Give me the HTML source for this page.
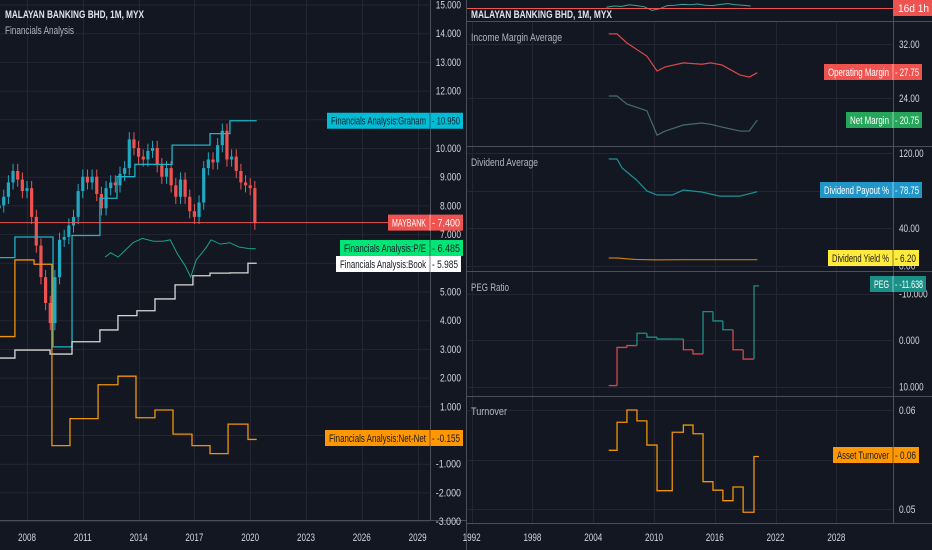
<!DOCTYPE html>
<html><head><meta charset="utf-8"><style>
html,body{margin:0;padding:0;background:#131722;}
svg{display:block;font-family:"Liberation Sans",sans-serif;}
</style></head><body>
<svg id="c" width="932" height="550" viewBox="0 0 932 550" xmlns="http://www.w3.org/2000/svg">
<rect width="932" height="550" fill="#131722"/>
<g id="grid"></g>
<g id="marks"></g>
<g id="frame" stroke="#4a4e59" stroke-width="1">
 <line x1="466.5" y1="0" x2="466.5" y2="550"/>
 <line x1="430.5" y1="0" x2="430.5" y2="521"/>
 <line x1="0" y1="520.5" x2="466" y2="520.5"/>
 <line x1="893.5" y1="0" x2="893.5" y2="523"/>
 <line x1="466" y1="21.5" x2="932" y2="21.5"/>
 <line x1="466" y1="146.5" x2="932" y2="146.5"/>
 <line x1="466" y1="271.5" x2="932" y2="271.5"/>
 <line x1="466" y1="396.5" x2="932" y2="396.5"/>
 <line x1="466" y1="523.5" x2="932" y2="523.5"/>
</g>
<g id="txt" font-size="11" fill="#d1d4dc"></g>
<g font-size="11">
 <text x="5" y="18" fill="#e0e3eb" font-weight="bold" textLength="139" lengthAdjust="spacingAndGlyphs">MALAYAN BANKING BHD, 1M, MYX</text>
 <text x="5" y="34" fill="#b2b5be" textLength="69" lengthAdjust="spacingAndGlyphs">Financials Analysis</text>
 <text x="471" y="18" fill="#e0e3eb" font-weight="bold" textLength="141" lengthAdjust="spacingAndGlyphs">MALAYAN BANKING BHD, 1M, MYX</text>
 <text x="471" y="41" fill="#b2b5be" textLength="91" lengthAdjust="spacingAndGlyphs">Income Margin Average</text>
 <text x="471" y="166" fill="#b2b5be" textLength="67" lengthAdjust="spacingAndGlyphs">Dividend Average</text>
 <text x="471" y="291" fill="#b2b5be" textLength="38" lengthAdjust="spacingAndGlyphs">PEG Ratio</text>
 <text x="471" y="415" fill="#b2b5be" textLength="36" lengthAdjust="spacingAndGlyphs">Turnover</text>
</g>
<g id="labels" font-size="11"></g>
</svg>
<script>
// ===== Left pane data =====
const candleStart = 2006.5;
const candleCloses = [8.0,8.3,8.8,9.2,8.9,8.5,8.6,7.6,6.6,5.5,4.6,3.9,5.5,6.8,6.9,7.3,7.6,8.5,9.0,8.8,9.0,8.4,7.9,8.6,8.8,8.7,9.1,9.3,10.3,10.0,9.7,9.6,9.9,10.0,9.4,9.0,9.3,8.7,8.3,8.9,8.3,7.8,7.6,8.1,9.3,9.6,9.5,10.1,10.6,9.6,9.7,9.2,8.8,8.7,8.6,7.4];
const grahamYears = [2006.55,2007.35,2009.4,2010.42,2011.92,2012.84,2013.8,2015.8,2017.84,2018.91];
const grahamValues = [6.18,6.9,3.07,6.95,8.25,9.0,9.43,10.1,10.5,10.95];
const peYears = [2012.2,2012.5,2012.9,2013.3,2013.7,2014.2,2014.8,2015.3,2015.7,2016.1,2016.5,2016.8,2017.1,2017.6,2017.9,2018.4,2018.9,2019.4,2019.9,2020.3];
const peValues = [6.2,6.35,6.2,6.45,6.7,6.85,6.75,6.75,6.8,6.3,5.9,5.5,6.1,6.5,6.8,6.65,6.7,6.55,6.5,6.49];
const bookYears = [2006.55,2007.35,2009.24,2010.42,2011.92,2012.89,2013.91,2014.88,2015.96,2016.92,2017.84,2018.91,2019.88];
const bookValues = [2.68,2.96,2.82,3.25,3.66,4.16,4.33,4.74,5.23,5.55,5.64,5.65,5.985];
const netYears = [2006.55,2007.35,2008.38,2009.34,2010.31,2011.82,2012.89,2013.86,2014.88,2015.85,2016.87,2017.84,2018.81,2019.88];
const netValues = [3.43,6.1,5.95,-0.37,0.57,1.75,2.05,0.6,0.87,0.03,-0.37,-0.65,0.38,-0.155];
const leftEnd = 2020.35;
const leftTicksY = [15,14,13,12,10,9,8,7,5,4,3,2,1,-1,-2,-3];
const leftTicksX = [2008,2011,2014,2017,2020,2023,2026,2029];
// ===== Right panes data =====
const marginYears = [2005.53,2006.35,2007.33,2009.3,2010.3,2011.1,2012.9,2014.7,2015.6,2016.7,2018.5,2019.4,2020.2];
const opMargin = [33.5,33.5,32.15,30.2,28.0,28.6,29.2,29.0,29.2,28.9,27.4,27.1,27.75];
const netMargin = [24.3,24.3,23.1,22.1,18.5,19.1,20.0,20.3,20.1,19.7,19.1,19.1,20.75];
const divYears = [2005.53,2006.35,2006.85,2008.3,2009.3,2010.3,2011.8,2012.9,2014.7,2016.5,2018.5,2020.2];
const divPayout = [113.6,113.6,104,91,79.5,75.2,75.2,80.5,78.4,74,74,78.75];
const yieldYears = [2005.53,2006.35,2008.0,2010.3,2012.9,2020.2];
const divYield = [8.0,8.0,6.5,6.0,6.2,6.2];
const pegYears = [2005.53,2006.35,2007.33,2008.32,2009.3,2010.3,2011.8,2012.9,2013.85,2014.84,2015.82,2016.8,2017.8,2018.8,2019.87];
const pegValues = [9.8,1.6,1.2,-1.45,-0.6,-0.2,-0.2,2.1,3.0,-6.1,-4.1,-2.2,2.1,4.1,-11.638];
const pegEnd = 2020.36;
const turnYears = [2005.53,2006.35,2007.33,2008.32,2009.3,2010.3,2011.8,2012.9,2013.85,2014.84,2015.82,2016.8,2017.8,2018.8,2019.87];
const turnValues = [0.05593,0.05876,0.0600,0.0589,0.05646,0.05185,0.05775,0.05848,0.0576,0.05276,0.0519,0.05084,0.05222,0.04967,0.0553];
const rightTicksX = [1992,1998,2004,2010,2016,2022,2028];
const miniValues = [0.2,0.5,0.4,0.8,0.6,0.3,-0.6,-0.2,0.6,0.7,0.9,0.8,1.0,0.7,0.6,0.9,1.1,0.8,0.7,0.5];
const miniStart = 2005.3;

const NS = "http://www.w3.org/2000/svg";
const grid = document.getElementById('grid');
const marks = document.getElementById('marks');
const txt = document.getElementById('txt');
function el(tag, parent, attrs){const e=document.createElementNS(NS,tag);for(const k in attrs)e.setAttribute(k,attrs[k]);parent.appendChild(e);return e;}

const lx = y => 27 + (y - 2008) * 18.6;
const ly = v => 435 - 28.7 * v;
const rx = y => 654 + (y - 2010) * 10.13;
const incY = v => 44 + (32 - v) * 6.75;
const divY = v => 153 + (120 - v) * 0.9375;
const pegY = v => 340 + v * 4.65;
const turnY = v => 410 + (0.06 - v) * 9900;
const miniY = v => 8 - v * 4;

for (let v = -3; v <= 15; v++) {
  const g = el('line', grid, {x1:0, x2:430, y1:ly(v)+0.5, y2:ly(v)+0.5, stroke:'#242733'});
  
  
}
leftTicksX.forEach(t => {
  const g = el('line', grid, {x1:Math.round(lx(t))+0.5, x2:Math.round(lx(t))+0.5, y1:0, y2:520, stroke:'#242733'});
  
  
  const t2 = el('text', txt, {x:lx(t)-9, y:541, textLength:18, lengthAdjust:'spacingAndGlyphs'});
  t2.textContent = t;
  
  
});
leftTicksY.forEach(v => {
  const s = v.toFixed(3);
  const w = s.length * 4.2;
  const t = el('text', txt, {x:461 - w, y:ly(v)+4, textLength:w, lengthAdjust:'spacingAndGlyphs'});
  t.textContent = s;
  
  
});
rightTicksX.forEach(t => {
  const g = el('line', grid, {x1:Math.round(rx(t))+0.5, x2:Math.round(rx(t))+0.5, y1:22, y2:523, stroke:'#242733'});
  
  
  const w = String(t).length * 4.5;
  const t2 = el('text', txt, {x:rx(t)-w/2, y:541, textLength:w, lengthAdjust:'spacingAndGlyphs'});
  t2.textContent = t;
  
  
});
const rTicks = [[incY,[32,24],2],[divY,[120,80,40,0],2],[pegY,[-10,0,10],3],[turnY,[0.06,0.055,0.05],2]];
rTicks.forEach(([f, vals, d]) => vals.forEach(v => {
  const g = el('line', grid, {x1:466, x2:893, y1:Math.round(f(v))+0.5, y2:Math.round(f(v))+0.5, stroke:'#242733'});
  
  
  if (v === 80 || v === 0.055) return;
  const s = v.toFixed(d);
  const t = el('text', txt, {x:899, y:f(v)+4, textLength:s.length*4.1, lengthAdjust:'spacingAndGlyphs'});
  t.textContent = s;
  
  
}));

function stepPath(xs, ys, fx, fy, end){
  let d = 'M' + fx(xs[0]) + ',' + fy(ys[0]);
  for (let i = 1; i < xs.length; i++) d += 'H' + fx(xs[i]) + 'V' + fy(ys[i]);
  d += 'H' + fx(end);
  return d;
}
function linePath(xs, ys, fx, fy){
  return xs.map((x,i)=>(i?'L':'M')+fx(x)+','+fy(ys[i])).join('');
}

candleCloses.forEach((c, i) => {
  const o = i ? candleCloses[i-1] : c - 0.1;
  const x = lx(candleStart + i * 0.25);
  const up = c >= o;
  const col = up ? '#22a7c0' : '#ef5350';
  const hi = Math.max(o, c) + 0.25, lo = Math.min(o, c) - 0.25;
  const w = el('line', marks, {x1:x, x2:x, y1:ly(hi), y2:ly(lo), stroke:col, 'stroke-width':1});
  
  
  const b = el('rect', marks, {x:x-1.6, width:3.2, y:ly(Math.max(o,c)), height:Math.max(1, ly(Math.min(o,c)) - ly(Math.max(o,c))), fill:col});
  
  
});
const pl = el('line', marks, {x1:0, x2:430, y1:ly(7.4), y2:ly(7.4), stroke:'#ef5350', 'stroke-width':1});



const sGraham = el('path', marks, {d:stepPath(grahamYears, grahamValues, lx, ly, leftEnd), fill:'none', stroke:'#1fb3c7', 'stroke-width':1.3});


const sPE = el('path', marks, {d:linePath(peYears, peValues, lx, ly), fill:'none', stroke:'#1e9e8a', 'stroke-width':1});


const sBook = el('path', marks, {d:stepPath(bookYears, bookValues, lx, ly, leftEnd), fill:'none', stroke:'#d8d8d8', 'stroke-width':1.3});


const sNet = el('path', marks, {d:stepPath(netYears, netValues, lx, ly, leftEnd), fill:'none', stroke:'#f0940a', 'stroke-width':1.3});



const mLine = el('path', marks, {d:linePath(miniValues.map((v,i)=>miniStart+i*0.75), miniValues, rx, miniY), fill:'none', stroke:'#3aa597', 'stroke-width':1});


const mRed = el('line', marks, {x1:466, x2:893, y1:8.5, y2:8.5, stroke:'#ef5350'});



const sOp = el('path', marks, {d:linePath(marginYears, opMargin, rx, incY), fill:'none', stroke:'#d84a4a', 'stroke-width':1.2});


const sNm = el('path', marks, {d:linePath(marginYears, netMargin, rx, incY), fill:'none', stroke:'#456b6e', 'stroke-width':1.2});


const sPay = el('path', marks, {d:linePath(divYears, divPayout, rx, divY), fill:'none', stroke:'#1d8f94', 'stroke-width':1.2});


const sYld = el('path', marks, {d:linePath(yieldYears, divYield, rx, divY), fill:'none', stroke:'#c47a12', 'stroke-width':1.2});


pegYears.forEach((y, i) => {
  const x2 = i < pegYears.length - 1 ? pegYears[i+1] : pegEnd;
  const v = pegValues[i];
  const col = v > 0.5 ? '#d04a4a' : '#1a8f86';
  let d = 'M' + rx(y) + ',' + (i ? pegY(pegValues[i-1]) : pegY(v)) + 'V' + pegY(v) + 'H' + rx(x2);
  const s = el('path', marks, {d:d, fill:'none', stroke:col, 'stroke-width':1.3});
  
  
});
const sTurn = el('path', marks, {d:stepPath(turnYears, turnValues, rx, turnY, pegEnd), fill:'none', stroke:'#f0940a', 'stroke-width':1.3});



const labels = document.getElementById('labels');
function tag(name, x1, x2, yc, bg, fg, t1, t2, splitX){
  const g = el('g', labels, {});
  
  
  el('rect', g, {x:x1, y:yc-8, width:x2-x1, height:16, fill:bg});
  if (t1) {
    el('line', g, {x1:splitX, x2:splitX, y1:yc-8, y2:yc+8, stroke:fg, 'stroke-opacity':0.5});
    const a = el('text', g, {x:x1+4, y:yc+4, fill:fg, textLength:splitX-x1-8, lengthAdjust:'spacingAndGlyphs'});
    a.textContent = t1;
  }
  const b = el('text', g, {x:splitX+2, y:yc+4, fill:fg, textLength:x2-splitX-5, lengthAdjust:'spacingAndGlyphs'});
  b.textContent = t2;
}
tag('graham-value-label', 327, 463, ly(10.95), '#00bcd4', '#10202a', 'Financials Analysis:Graham', '- 10.950', 430);
tag('maybank-price-label', 388, 463, ly(7.4), '#ef5350', '#ffffff', 'MAYBANK', '- 7.400', 430);
tag('pe-value-label', 340, 463, 248, '#00e676', '#10202a', 'Financials Analysis:P/E', '- 6.485', 430);
tag('book-value-label', 336, 461, 264, '#ffffff', '#131722', 'Financials Analysis:Book', '- 5.985', 430);
tag('net-net-value-label', 325, 463, 438, '#ff9800', '#1a1a1a', 'Financials Analysis:Net-Net', '- -0.155', 430);
tag('time-remaining-label', 893, 932, 8, '#ef5350', '#ffffff', '', '16d 1h', 896);
tag('operating-margin-label', 824, 922, 72, '#ef5350', '#ffffff', 'Operating Margin', '- 27.75', 893);
tag('net-margin-label', 846, 922, 120, '#26a65b', '#ffffff', 'Net Margin', '- 20.75', 893);
tag('dividend-payout-label', 820, 922, 190, '#2196c8', '#ffffff', 'Dividend Payout %', '- 78.75', 893);
tag('dividend-yield-label', 828, 919, 258, '#ffeb3b', '#1a1a1a', 'Dividend Yield %', '- 6.20', 893);
tag('peg-value-label', 870, 926, 284, '#1a8f86', '#ffffff', 'PEG', '- -11.638', 893);
tag('asset-turnover-label', 833, 919, 455, '#ff9800', '#1a1a1a', 'Asset Turnover', '- 0.06', 893);
</script>
</body></html>
